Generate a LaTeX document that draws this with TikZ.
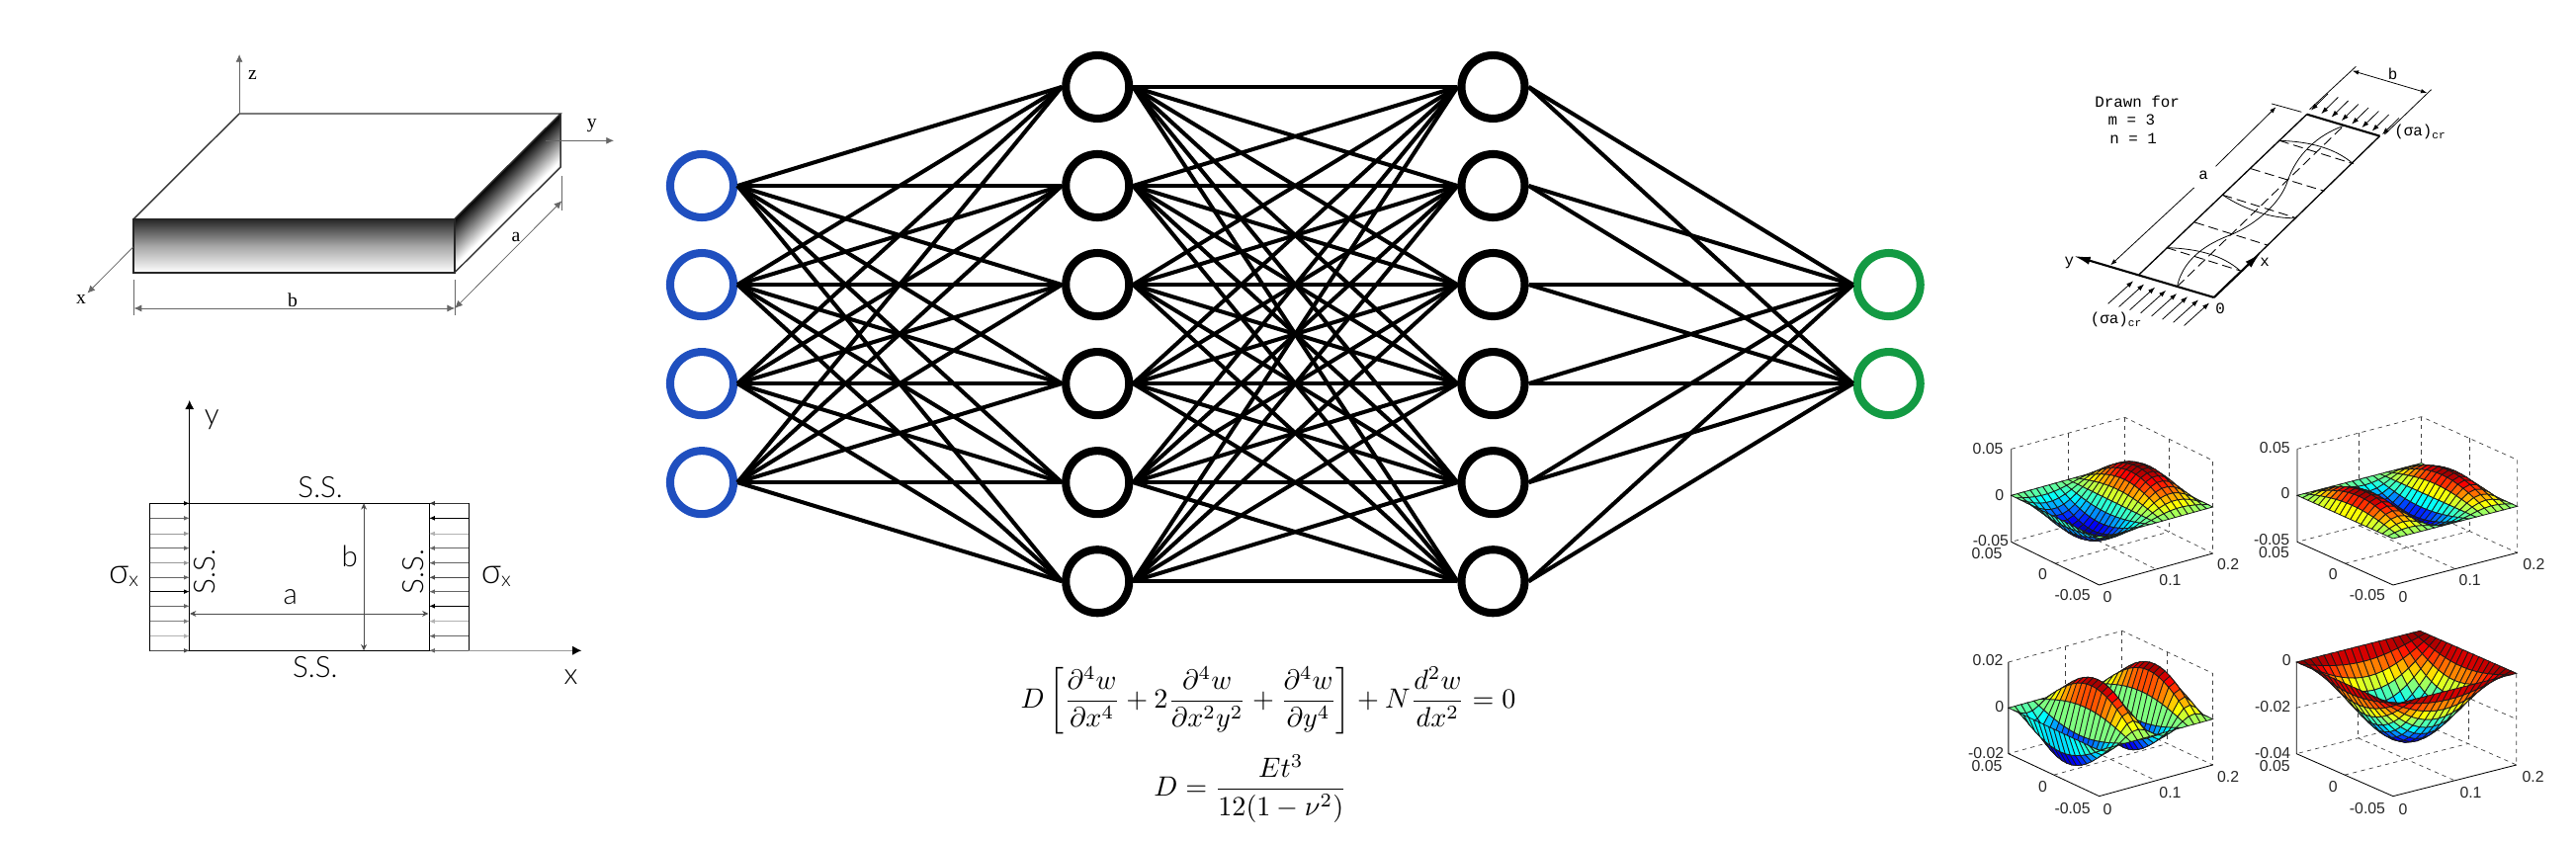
\documentclass[tikz,border=0pt]{standalone}
\usepackage{fontspec}
\usepackage{amsmath}
\setmainfont{Liberation Sans}
\newfontfamily\platefont{Liberation Serif}
\newfontfamily\loadfont{Lato Light}
\newfontfamily\drawnfont{Liberation Mono}
\usetikzlibrary{positioning,calc,arrows.meta}
\definecolor{inblue}{HTML}{1F4FBF}
\definecolor{outgreen}{HTML}{139A43}
\tikzset{
neuron/.style={circle,draw=black,line width=2.3pt,minimum size=.64cm,inner sep=0pt},
inneuron/.style={neuron,draw=inblue},
outneuron/.style={neuron,draw=outgreen},
link/.style={line width=1.15pt,black},
plateaxis/.style={line width=.22pt,black!60,-{Latex[length=2.2pt,width=2pt]}},
platedim/.style={line width=.22pt,black!60,{Latex[length=2.2pt,width=2pt]}-{Latex[length=2.2pt,width=2pt]}},
platetext/.style={font=\platefont\fontsize{5.6}{6}\selectfont,inner sep=0pt},
loadtext/.style={font=\loadfont\fontsize{8.4}{9}\selectfont,inner sep=0pt},
loadarrow/.style={line width=.22pt,-{Latex[length=1.6pt,width=1.3pt]}},
loaddim/.style={line width=.22pt,black!70,{Stealth[length=1.8pt,width=1.7pt]}-{Stealth[length=1.8pt,width=1.7pt]}},
thinline/.style={line width=.22pt},
edgeline/.style={line width=.38pt},
thickline/.style={line width=.6pt},
dashline/.style={line width=.25pt,dash pattern=on 2.8pt off 1.4pt},
pressarrow/.style={line width=.22pt,-{Latex[length=2pt,width=1.4pt]}},
thickarrow/.style={line width=.6pt,-{Latex[length=4.8pt,width=2.3pt]}},
drawntext/.style={font=\drawnfont\fontsize{4.5}{5}\selectfont,inner sep=0pt},
ticktext/.style={font=\fontsize{4.5}{5}\selectfont,inner sep=0pt,text=black!85},
frameline/.style={line width=.24pt},
framedash/.style={line width=.2pt,black!75,dash pattern=on 1.2pt off 1.2pt},
meshline/.style={line width=.22pt,draw=black!90},
declare function={
surfa(\p,\q)=-85*sin(360*\p)*sin(180*\q);
surfb(\p,\q)=60*sin(540*\p)*sin(180*\q);
surfc(\p,\q)=-115*sin(720*\p)*sin(180*\q);
surfd(\p,\q)=-221*sin(180*\p)*sin(180*\q);
}
}
\newcommand{\meshpt}[3]{({\pax+\pvx*#2+\pux*#1},{\pay-\plift+\pvy*#2+\puy*#1-#3})}
\newcommand{\meshpanel}[9]{
\def\pax{#1}\def\pay{#2}\def\pvx{#3}\def\pvy{#4}\def\pux{#5}\def\puy{#6}\def\plift{#8}
\coordinate (pA) at (#1,#2);
\coordinate (pB) at ({#1+#3},{#2+#4});
\coordinate (pC) at ({#1+#3+#5},{#2+#4+#6});
\coordinate (pD) at ({#1+#5},{#2+#6});
\coordinate (tA) at (#1,{#2-#7});
\coordinate (tC) at ({#1+#3+#5},{#2+#4+#6-#7});
\coordinate (tD) at ({#1+#5},{#2+#6-#7});
\draw[framedash] (tA)--(tD)--(tC)--(pC)--(pD)--(pA);
\draw[framedash] (tD)--(pD);
\draw[framedash] ($(tA)!.5!(tD)$)--($(pA)!.5!(pD)$);
\draw[framedash] ($(tD)!.5!(tC)$)--($(pD)!.5!(pC)$);
\draw[framedash] ($(pA)!.5!(pB)$)--($(pD)!.5!(pC)$);
\draw[framedash] ($(pA)!.5!(pD)$)--($(pB)!.5!(pC)$);
\draw[framedash] ($(pA)!.5!(tA)$)--($(pD)!.5!(tD)$)--($(pC)!.5!(tC)$);
\foreach \j in {0,...,17}{\foreach \i in {17,...,0}{
\pgfmathsetmacro{\ua}{\i/18}\pgfmathsetmacro{\ub}{(\i+1)/18}
\pgfmathsetmacro{\va}{\j/18}\pgfmathsetmacro{\vb}{(\j+1)/18}
\pgfmathsetmacro{\zaa}{#9(\ua,\va)}\pgfmathsetmacro{\zba}{#9(\ub,\va)}
\pgfmathsetmacro{\zab}{#9(\ua,\vb)}\pgfmathsetmacro{\zbb}{#9(\ub,\vb)}
\pgfmathsetmacro{\lev}{((\zaa+\zba+\zab+\zbb)/4-\zlo)/(\zhi-\zlo)}
\pgfmathsetmacro{\jr}{max(0,min(1,min(4*\lev-1.5,4.5-4*\lev)))}
\pgfmathsetmacro{\jg}{max(0,min(1,min(4*\lev-.5,3.5-4*\lev)))}
\pgfmathsetmacro{\jb}{max(0,min(1,min(4*\lev+.5,2.5-4*\lev)))}
\definecolor{meshcol}{rgb}{\jr,\jg,\jb}
\filldraw[meshline,fill=meshcol] \meshpt{\ua}{\va}{\zaa}--\meshpt{\ub}{\va}{\zba}--\meshpt{\ub}{\vb}{\zbb}--\meshpt{\ua}{\vb}{\zab}--cycle;
}}
\draw[frameline] (tA)--(pA)--(pB)--(pC);
}
\begin{document}
\begin{tikzpicture}[x=.01cm,y=-.01cm,on grid]
\useasboundingbox (0,0) rectangle (2606,852);

\node[inneuron](i1) at (710,188) {};
\node[inneuron,below=1cm of i1](i2) {};
\node[inneuron,below=1cm of i2](i3) {};
\node[inneuron,below=1cm of i3](i4) {};
\node[neuron,above right=1cm and 4cm of i1](h1) {};
\node[neuron,below=1cm of h1](h2) {};
\node[neuron,below=1cm of h2](h3) {};
\node[neuron,below=1cm of h3](h4) {};
\node[neuron,below=1cm of h4](h5) {};
\node[neuron,below=1cm of h5](h6) {};
\node[neuron,right=4cm of h1](g1) {};
\node[neuron,below=1cm of g1](g2) {};
\node[neuron,below=1cm of g2](g3) {};
\node[neuron,below=1cm of g3](g4) {};
\node[neuron,below=1cm of g4](g5) {};
\node[neuron,below=1cm of g5](g6) {};
\node[outneuron,right=4cm of g3](o1) {};
\node[outneuron,below=1cm of o1](o2) {};
\foreach \a in {1,...,4}{\foreach \b in {1,...,6}{\draw[link] (i\a.east)--(h\b.west);}}
\foreach \a in {1,...,6}{\foreach \b in {1,...,6}{\draw[link] (h\a.east)--(g\b.west);}}
\foreach \a in {1,...,6}{\foreach \b in {1,2}{\draw[link] (g\a.east)--(o\b.west);}}

\node[scale=.8](eqplate) at (1283,709) {$\displaystyle D\left[\frac{\partial^4 w}{\partial x^4}+2\frac{\partial^4 w}{\partial x^2y^2}+\frac{\partial^4 w}{\partial y^4}\right]+N\frac{d^2 w}{dx^2}=0$};
\node[scale=.8](eqrigid) at (1265,798) {$\displaystyle D=\frac{Et^3}{12(1-\nu^2)}$};

\begin{scope}[shift={(0,30)},xscale=.421,yscale=.3333]
\coordinate (bt) at (575,255);
\coordinate (ct) at (1347,255);
\coordinate (ft) at (321,575);
\coordinate (gt) at (1092,575);
\coordinate (fb) at (321,738);
\coordinate (gb) at (1092,738);
\coordinate (cb) at (1347,417);
\shade[top color=black!85,bottom color=white,middle color=black!35] (ft) rectangle (gb);
\foreach \s in {0,...,53}{
\pgfmathsetmacro{\shd}{min(100,\s*2.1)}
\fill[white!\shd!black] (1092,575+3*\s)--(1347,255+3*\s)--(cb)--(gb)--cycle;
}
\draw[line width=.4pt,black!80] (ft)--(bt)--(ct)--(gt);
\draw[line width=.55pt,black!85] (ft)--(gt)--(gb)--(fb)--cycle;
\draw[line width=.4pt,black!80] (ct)--(cb)--(gb);
\coordinate (ztip) at (575,75);
\coordinate (yfoot) at (1312,337);
\coordinate (ytip) at (1475,337);
\coordinate (xfoot) at (320,660);
\coordinate (xtip) at (210,800);
\draw[plateaxis] (bt)--(ztip);
\draw[plateaxis] (yfoot)--(ytip);
\draw[plateaxis] (xfoot)--(xtip);
\node[platetext](zlab) at (607,137) {z};
\node[platetext](ylab) at (1422,290) {y};
\node[platetext](xlab) at (195,818) {x};
\coordinate (bl) at (322,846);
\coordinate (br) at (1093,846);
\coordinate (ar) at (1350,520);
\draw[platedim] (bl)--(br);
\draw[platedim] (br)--(ar);
\draw[line width=.22pt,black!60] (322,760)--(322,868);
\draw[line width=.22pt,black!60] (1093,760)--(1093,868);
\draw[line width=.22pt,black!60] (1350,445)--(1350,548);
\node[platetext](blab) at (703,820) {b};
\node[platetext](alab) at (1240,630) {a};
\end{scope}

\begin{scope}[shift={(60,380)},xscale=.357,yscale=.3333]
\coordinate (ql) at (257,388);
\coordinate (pl) at (369,388);
\coordinate (pr) at (1048,388);
\coordinate (qr) at (1160,388);
\coordinate (qlb) at (257,835);
\coordinate (plb) at (369,835);
\coordinate (prb) at (1048,835);
\coordinate (qrb) at (1160,835);
\draw[line width=.3pt] (ql)--(qr)--(qrb)--(qlb)--cycle;
\draw[line width=.3pt] (pl)--(plb);
\draw[line width=.3pt] (pr)--(prb);
\foreach \y/\g in {388/100,433/60,480/40,524/60,569/40,613/60,656/100,700/60,746/50,791/30,835/70}{
\draw[loadarrow,black!\g] (257,\y)--(369,\y);
}
\foreach \y/\g in {388/80,433/100,480/30,524/60,569/60,613/70,656/60,700/100,746/30,791/60,835/60}{
\draw[loadarrow,black!\g] (1160,\y)--(1048,\y);
}
\coordinate (ytop) at (369,75);
\coordinate (xend) at (1480,835);
\draw[line width=.3pt,-{Latex[length=2.6pt,width=2.6pt]}] (pl)--(ytop);
\draw[line width=.3pt,black!40,-{Latex[length=2.6pt,width=2.6pt,black]}] (qrb)--(xend);
\coordinate (bdt) at (863,388);
\coordinate (bdb) at (863,835);
\coordinate (adl) at (370,723);
\coordinate (adr) at (1046,723);
\draw[loaddim] (bdt)--(bdb);
\draw[loaddim] (adl)--(adr);
\node[loadtext](yname) at (432,135) {y};
\node[loadtext](xname) at (1450,915) {x};
\node[loadtext](bname) at (823,550) {b};
\node[loadtext](aname) at (655,672) {a};
\node[loadtext](sstop) at (740,340) {S.S.};
\node[loadtext](ssbot) at (725,885) {S.S.};
\node[loadtext,rotate=90](ssleft) at (413,595) {S.S.};
\node[loadtext,rotate=90](ssright) at (1002,595) {S.S.};
\node[loadtext](sigl) at (185,610) {{\fontsize{10}{10}\selectfont σ}\textsubscript{x}};
\node[loadtext](sigr) at (1240,610) {{\fontsize{10}{10}\selectfont σ}\textsubscript{x}};
\end{scope}

\begin{scope}[shift={(2050,40)},xscale=.3546,yscale=.3333]
\coordinate (o) at (535,783);
\coordinate (e) at (322,713);
\coordinate (k) at (800,227);
\coordinate (l) at (1008,293);
\coordinate (ytail) at (135,657);
\coordinate (xhead) at (668,648);
\draw[edgeline] (e)--(k);
\draw[edgeline] (o)--(l);
\draw[thickline] (k)--(l);
\draw[thickarrow] (o)--(ytail);
\draw[thickarrow] (o)--(xhead);
\draw[dashline] (640,392)--(850,460);
\draw[dashline] (480,555)--(690,625);
\draw[dashline] (722,307)--(932,377);
\draw[dashline] (560,472)--(770,542);
\draw[dashline] (400,632)--(610,702);
\draw[dashline] (430,750)--(905,262);
\draw[thinline] (722,307) .. controls (810,310) and (880,330) .. (932,377);
\draw[thinline] (560,472) .. controls (620,515) and (700,545) .. (770,542);
\draw[thinline] (400,632) .. controls (490,635) and (560,655) .. (610,702);
\draw[thinline] (430,750) .. controls (450,650) and (540,610) .. (590,590) .. controls (680,545) and (730,480) .. (745,430) .. controls (770,350) and (830,290) .. (905,262);
\coordinate (adima) at (240,685);
\coordinate (adimb) at (478,450);
\coordinate (adimc) at (540,385);
\coordinate (adimd) at (712,205);
\draw[thinline,{Latex[length=1.8pt,width=1.3pt]}-] (adima)--(adimb);
\draw[thinline,-{Latex[length=1.8pt,width=1.3pt]}] (adimc)--(adimd);
\draw[thinline] (700,195)--(785,220);
\coordinate (bdima) at (930,95);
\coordinate (bdimb) at (1143,162);
\draw[thinline,{Latex[length=1.8pt,width=1.3pt]}-{Latex[length=1.8pt,width=1.3pt]}] (bdima)--(bdimb);
\draw[thinline] (940,82)--(808,212);
\draw[thinline] (1155,152)--(1022,288);
\foreach \n in {0,...,7}{
\draw[pressarrow] ({860+29*\n},{165+10.5*\n})--({812+29*\n},{215+10.5*\n});
\draw[pressarrow] ({233+31*\n},{802+9.5*\n})--({305+31*\n},{733+9.5*\n});
}
\node[drawntext](draw1) at (316,188) {Drawn for};
\node[drawntext](draw2) at (300,243) {m = 3};
\node[drawntext](draw3) at (305,300) {n = 1};
\node[drawntext](ydraw) at (122,677) {y};
\node[drawntext](xdraw) at (680,675) {x};
\node[drawntext](odraw) at (553,817) {0};
\node[drawntext](adraw) at (505,412) {a};
\node[drawntext](bdraw) at (1045,105) {b};
\node[drawntext](load1) at (1125,280) {(σa)\textsubscript{cr}};
\node[drawntext](load2) at (258,850) {(σa)\textsubscript{cr}};
\end{scope}

\begin{scope}[shift={(1980,420)},xscale=.399,yscale=.3333]
\def\zlo{-85}\def\zhi{85}
\meshpanel{137}{385}{223}{131}{288}{-96}{282}{141}{surfa}
\def\zlo{-60}\def\zhi{60}
\meshpanel{862}{385}{243}{131}{315}{-98}{282}{141}{surfb}
\foreach \t/\x/\y [count=\n] in {0.05/78/103,0/107/243,-0.05/85/380,0.05/75/420,0/217/483,-0.05/292/547,0/381/552,0.1/540/502,0.2/687/452,0.05/805/100,0/832/238,-0.05/797/378,0.05/803/418,0/953/483,-0.05/1040/547,0/1130/552,0.1/1300/502,0.2/1462/452}{
\node[ticktext](tka\n) at (\x,\y) {\t};
}
\end{scope}
\begin{scope}[shift={(1980,630)},xscale=.399,yscale=.3333]
\def\zlo{-115}\def\zhi{115}
\meshpanel{130}{398}{230}{129}{288}{-95}{278}{139}{surfc}
\def\zlo{-221}\def\zhi{0}
\meshpanel{860}{398}{245}{129}{313}{-95}{278}{278}{surfd}
\foreach \t/\x/\y [count=\n] in {0.02/78/115,0/107/255,-0.02/73/395,0.05/75/435,0/217/497,-0.05/292/565,0/381/567,0.1/540/517,0.2/687/467,0/835/115,-0.02/800/255,-0.04/800/395,0.05/805/435,0/953/497,-0.05/1040/565,0/1130/567,0.1/1302/517,0.2/1460/467}{
\node[ticktext](tkb\n) at (\x,\y) {\t};
}
\end{scope}
\end{tikzpicture}
\end{document}
